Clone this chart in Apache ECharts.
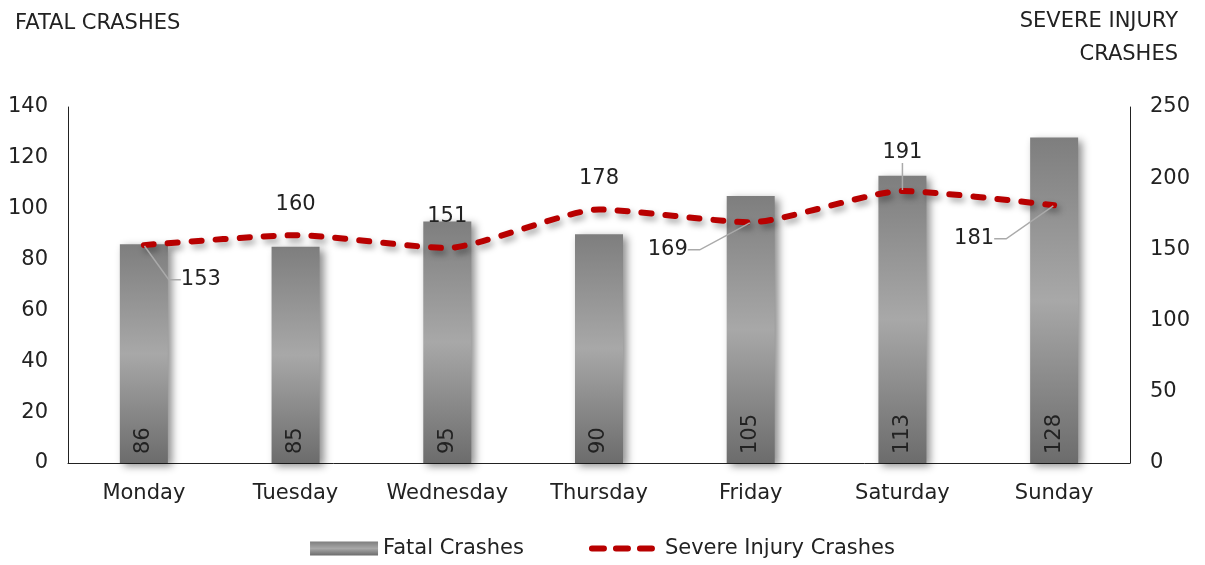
<!DOCTYPE html>
<html>
<head>
<meta charset="utf-8">
<script src="https://cdn.jsdelivr.net/npm/echarts@6/dist/echarts.min.js"></script>
<style>
  html, body { margin: 0; padding: 0; background: #fff; }
  #chart { width: 1205px; height: 565px; }
</style>
</head>
<body>
<div id="chart"></div>
<script>
var days = ['Monday', 'Tuesday', 'Wednesday', 'Thursday', 'Friday', 'Saturday', 'Sunday'];
var fatalCrashes = [86, 85, 95, 90, 105, 113, 128];
var severeInjuryCrashes = [153, 160, 151, 178, 169, 191, 181];

// label nudges for the line labels (dx, dy) from the default 'top' spot, and which get a leader line
var lineLabelShift = [[57, 51], [0, -14], [0, -15], [0, -14], [-83, 44], [0, -22], [-80, 50]];
var lineLabelLeader = [true, false, false, false, true, true, true];

var fontName = '"DejaVu Sans", sans-serif';
var fs = 21;

var myChart = echarts.init(document.getElementById('chart'));

var barFill = new echarts.graphic.LinearGradient(0, 0, 0, 1, [
    { offset: 0, color: '#7e7e7e' },
    { offset: 0.5, color: '#a8a8a8' },
    { offset: 1, color: '#6c6c6c' }
]);

var txt = { fontFamily: fontName, fontSize: fs, fontWeight: 'normal', color: '#222' };

var lineData = severeInjuryCrashes.map(function (v, i) {
    return { value: v, labelLine: { show: lineLabelLeader[i] } };
});

var option = {
    backgroundColor: '#fff',
    animation: false,
    textStyle: { fontFamily: fontName },
    title: [
        { text: 'FATAL CRASHES', left: 10, top: 8, textStyle: txt },
        { text: 'SEVERE INJURY', right: 22, top: 6, textStyle: txt },
        { text: 'CRASHES', right: 22, top: 39, textStyle: txt }
    ],
    legend: {
        bottom: 1,
        left: 'center',
        itemWidth: 68,
        itemHeight: 14,
        itemGap: 65,
        textStyle: txt,
        data: [
            { name: 'Fatal Crashes', icon: 'rect' },
            {
                name: 'Severe Injury Crashes',
                itemStyle: { opacity: 0 },
                lineStyle: { width: 6, type: [12, 12], cap: 'round', color: '#b80000' }
            }
        ]
    },
    grid: { left: 68, right: 75, top: 107, bottom: 102 },
    xAxis: {
        type: 'category',
        data: days,
        axisLine: { lineStyle: { color: '#222', width: 1 } },
        axisTick: { show: false },
        axisLabel: Object.assign({ interval: 0, margin: 20 }, txt)
    },
    yAxis: [
        {
            type: 'value',
            min: 0, max: 140, interval: 20,
            splitLine: { show: false },
            axisLine: { show: true, lineStyle: { color: '#222' } },
            axisTick: { show: false },
            axisLabel: Object.assign({ margin: 20 }, txt)
        },
        {
            type: 'value',
            min: 0, max: 250, interval: 50,
            splitLine: { show: false },
            axisLine: { show: true, lineStyle: { color: '#222' } },
            axisTick: { show: false },
            axisLabel: Object.assign({ margin: 20 }, txt)
        }
    ],
    series: [
        {
            name: 'Fatal Crashes',
            type: 'bar',
            yAxisIndex: 0,
            barWidth: 48,
            data: fatalCrashes,
            itemStyle: {
                color: barFill,
                shadowColor: 'rgba(0,0,0,0.45)',
                shadowBlur: 8,
                shadowOffsetX: 4,
                shadowOffsetY: 3
            },
            label: Object.assign({
                show: true,
                position: 'insideBottom',
                rotate: 90,
                align: 'left',
                verticalAlign: 'middle',
                distance: 9
            }, txt)
        },
        {
            name: 'Severe Injury Crashes',
            type: 'line',
            yAxisIndex: 1,
            data: lineData,
            smooth: 0.2,
            symbol: 'circle',
            symbolSize: 2,
            showSymbol: true,
            lineStyle: {
                color: '#b80000',
                width: 6,
                type: [10, 14],
                cap: 'round',
                shadowColor: 'rgba(0,0,0,0.35)',
                shadowBlur: 6,
                shadowOffsetX: 3,
                shadowOffsetY: 4
            },
            itemStyle: { color: 'rgba(0,0,0,0)' },
            label: Object.assign({ show: true, position: 'top', padding: [0, 8] }, txt),
            labelLine: {
                show: true,
                length2: 12,
                lineStyle: { color: '#aaa', width: 1.5 }
            },
            labelLayout: function (params) {
                var s = lineLabelShift[params.dataIndex];
                return { dx: s[0], dy: s[1] };
            },
            z: 5
        }
    ]
};

myChart.setOption(option);
</script>
</body>
</html>
